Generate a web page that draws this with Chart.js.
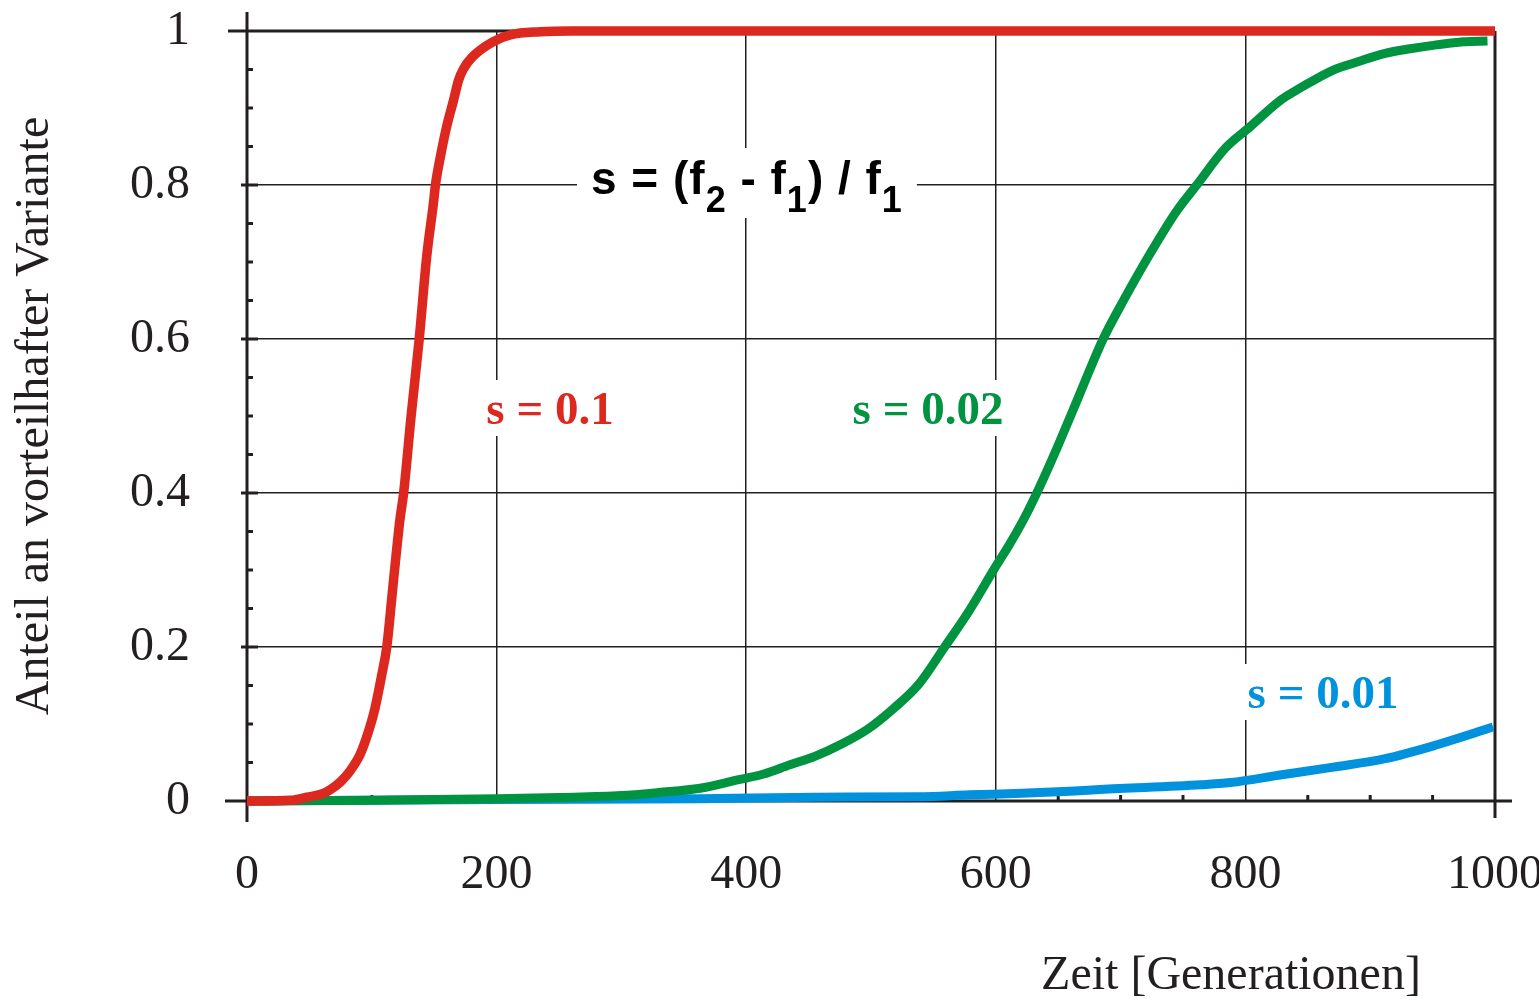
<!DOCTYPE html>
<html lang="de">
<head>
<meta charset="UTF-8">
<title>Selektion</title>
<script src="https://cdn.jsdelivr.net/npm/chart.js"></script>
<style>
  html, body { margin: 0; padding: 0; background: #fff; }
  canvas { display: block; }
</style>
</head>
<body>
<canvas id="selChart" width="1539" height="1002"></canvas>
<script>
// Werte (Zeit in Generationen, Anteil)
const genRot = [0, 35, 48, 60, 67, 75, 83, 90.5, 96.5, 102.5, 108, 112, 117, 122.5, 125.5, 131.5, 138, 144, 149.5, 151, 155, 160, 165.5, 169.5, 173.5, 181, 197, 211, 235, 260, 1000];
const antRot = [0, 0.001, 0.005, 0.009, 0.015, 0.025, 0.04, 0.06, 0.086, 0.12, 0.164, 0.2, 0.28, 0.365, 0.4, 0.5, 0.6, 0.707, 0.778, 0.8, 0.837, 0.876, 0.91, 0.936, 0.951, 0.967, 0.986, 0.995, 0.999, 1, 1];

const genGruen = [0, 100, 150, 200, 250, 300, 330, 363, 392, 414, 435, 455, 476.5, 498, 518, 538, 559, 579, 599, 612, 625, 638, 650, 662, 674, 686, 703, 723, 744, 761, 784, 804, 828, 844, 870, 890, 912, 932, 953, 974.5, 994];
const antGruen = [0, 0.001, 0.002, 0.003, 0.0045, 0.007, 0.011, 0.0165, 0.027, 0.035, 0.047, 0.058, 0.074, 0.094, 0.12, 0.151, 0.2, 0.248, 0.302, 0.336, 0.374, 0.418, 0.462, 0.508, 0.555, 0.6, 0.652, 0.709, 0.764, 0.8, 0.848, 0.876, 0.91, 0.926, 0.949, 0.96, 0.971, 0.977, 0.982, 0.986, 0.987];

const genBlau = [0, 200, 363, 455, 538, 579, 621, 663.5, 683.5, 764, 788, 829, 870.5, 912, 953.5, 998.5];
const antBlau = [0, 0.002, 0.003, 0.005, 0.0055, 0.008, 0.010, 0.013, 0.015, 0.021, 0.024, 0.034, 0.044, 0.055, 0.073, 0.096];

const xTicks = [0, 200, 400, 600, 800, 1000];
const yTicks = [0, 0.2, 0.4, 0.6, 0.8, 1];

const ink = '#231f20';
const rot = 'rgb(220,40,30)';
const gruen = 'rgb(0,148,64)';
const blau = 'rgb(0,146,220)';

// Beschriftungen im Diagramm (Datenkoordinaten)
const kurvenText = [
  { text: 's = 0.1', x: 242.8, y: 0.5104, color: rot },
  { text: 's = 0.02', x: 545.7, y: 0.5104, color: gruen },
  { text: 's = 0.01', x: 862.2, y: 0.1416, color: blau }
];

function punkte(gs, as) {
  return gs.map((g, i) => ({ x: g, y: as[i] }));
}

function strich(ctx, ax, ay, bx, by) {
  ctx.beginPath();
  ctx.moveTo(ax, ay);
  ctx.lineTo(bx, by);
  ctx.stroke();
}

const rahmen = {
  id: 'rahmen',
  beforeDatasetsDraw(chart) {
    const { ctx, scales: { x, y } } = chart;
    const x0 = x.getPixelForValue(0), x1 = x.getPixelForValue(1000);
    const y0 = y.getPixelForValue(0), y1 = y.getPixelForValue(1);
    ctx.save();
    ctx.strokeStyle = ink;
    ctx.lineWidth = 3;
    ctx.lineCap = 'butt';
    strich(ctx, x0, y1 - 19, x0, y0 + 21);   // linke Achse
    strich(ctx, x0 - 22, y0, x1 + 17, y0);   // untere Achse
    strich(ctx, x1, y1, x1, y0 + 17);        // rechter Rand
    strich(ctx, x0 - 19, y1, x1, y1);        // oberer Rand
    // kleine Striche y
    for (let v = 0.05; v < 1; v += 0.05) {
      const py = y.getPixelForValue(v);
      const major = Math.abs(v * 5 - Math.round(v * 5)) < 1e-6;
      if (major) strich(ctx, x0 - 6, py, x0 + 11, py);
      else strich(ctx, x0, py, x0 + 6, py);
    }
    // kleine Striche x
    for (let v = 50; v < 1000; v += 50) {
      if (v % 200 === 0) continue;
      const px = x.getPixelForValue(v);
      strich(ctx, px, y0, px, y0 - 6);
    }

    // Formel mit weissem Hintergrund
    const fx = x.getPixelForValue(400.6), fy = y.getPixelForValue(0.8);
    const teile = [
      { t: 's = (f', sub: false }, { t: '2', sub: true },
      { t: ' - f', sub: false }, { t: '1', sub: true },
      { t: ') / f', sub: false }, { t: '1', sub: true }
    ];
    const fMain = 'bold 46px "Liberation Sans"', fSub = 'bold 36px "Liberation Sans"';
    ctx.letterSpacing = '1px';
    let breite = 0;
    teile.forEach(p => {
      ctx.font = p.sub ? fSub : fMain;
      p.w = ctx.measureText(p.t).width;
      breite += p.w;
    });
    ctx.fillStyle = '#fff';
    ctx.fillRect(fx - breite / 2 - 14, fy - 37, breite + 28, 70);
    let cx = fx - breite / 2;
    ctx.fillStyle = '#000';
    ctx.textBaseline = 'alphabetic';
    ctx.textAlign = 'left';
    teile.forEach(p => {
      ctx.font = p.sub ? fSub : fMain;
      ctx.fillText(p.t, cx, fy + (p.sub ? 27 : 9));
      cx += p.w;
    });
    ctx.letterSpacing = '0px';

    // Kurvenbeschriftungen
    ctx.font = 'bold 47px "Liberation Serif"';
    kurvenText.forEach(k => {
      const px = x.getPixelForValue(k.x), py = y.getPixelForValue(k.y);
      const w = ctx.measureText(k.text).width;
      ctx.fillStyle = '#fff';
      ctx.fillRect(px - w / 2 - 6, py - 28, w + 12, 56);
      ctx.fillStyle = k.color;
      ctx.textAlign = 'center';
      ctx.fillText(k.text, px, py + 16);
    });

    // Achsentitel
    ctx.fillStyle = ink;
    ctx.font = '48px "Liberation Serif"';
    ctx.textAlign = 'center';
    ctx.textBaseline = 'middle';
    ctx.fillText('Zeit [Generationen]', 1231, 976);
    ctx.translate(35, (y0 + y1) / 2);
    ctx.rotate(-Math.PI / 2);
    ctx.fillText('Anteil an vorteilhafter Variante', 0, 0);
    ctx.restore();
  }
};

const innerGrid = (ctx) => {
  const v = ctx.tick ? ctx.tick.value : null;
  return (v === null || v <= 0 || v >= (ctx.scale.axis === 'x' ? 1000 : 1)) ? 'rgba(0,0,0,0)' : ink;
};

new Chart(document.getElementById('selChart'), {
  type: 'scatter',
  data: {
    datasets: [
      { label: 's = 0.1', data: punkte(genRot, antRot), borderColor: rot, borderWidth: 9.5 },
      { label: 's = 0.02', data: punkte(genGruen, antGruen), borderColor: gruen, borderWidth: 9 },
      { label: 's = 0.01', data: punkte(genBlau, antBlau), borderColor: blau, borderWidth: 9 }
    ]
  },
  options: {
    responsive: false,
    animation: false,
    showLine: true,
    elements: {
      point: { radius: 0, hoverRadius: 0 },
      line: { cubicInterpolationMode: 'monotone', fill: false, borderCapStyle: 'butt', borderJoinStyle: 'round' }
    },
    datasets: { scatter: { clip: false } },
    layout: { padding: { top: 31, right: 44, left: 0, bottom: 0 } },
    plugins: { legend: { display: false }, tooltip: { enabled: false } },
    scales: {
      x: {
        type: 'linear', min: 0, max: 1000,
        afterBuildTicks: s => { s.ticks = xTicks.map(v => ({ value: v })); },
        afterFit: s => { s.height = 201; s.paddingLeft = 0; s.paddingRight = 0; },
        border: { display: false },
        grid: { color: innerGrid, lineWidth: 1.5, drawTicks: false },
        ticks: { color: ink, padding: 46, maxRotation: 0, font: { family: 'Liberation Serif', size: 48 }, callback: v => String(v) }
      },
      y: {
        type: 'linear', min: 0, max: 1,
        afterBuildTicks: s => { s.ticks = yTicks.map(v => ({ value: v })); },
        afterFit: s => { s.width = 247; s.paddingTop = 0; s.paddingBottom = 0; },
        border: { display: false },
        grid: { color: innerGrid, lineWidth: 1.5, drawTicks: false },
        ticks: { color: ink, padding: 57, font: { family: 'Liberation Serif', size: 48 }, callback: v => String(v) }
      }
    }
  },
  plugins: [rahmen]
});
</script>
</body>
</html>
